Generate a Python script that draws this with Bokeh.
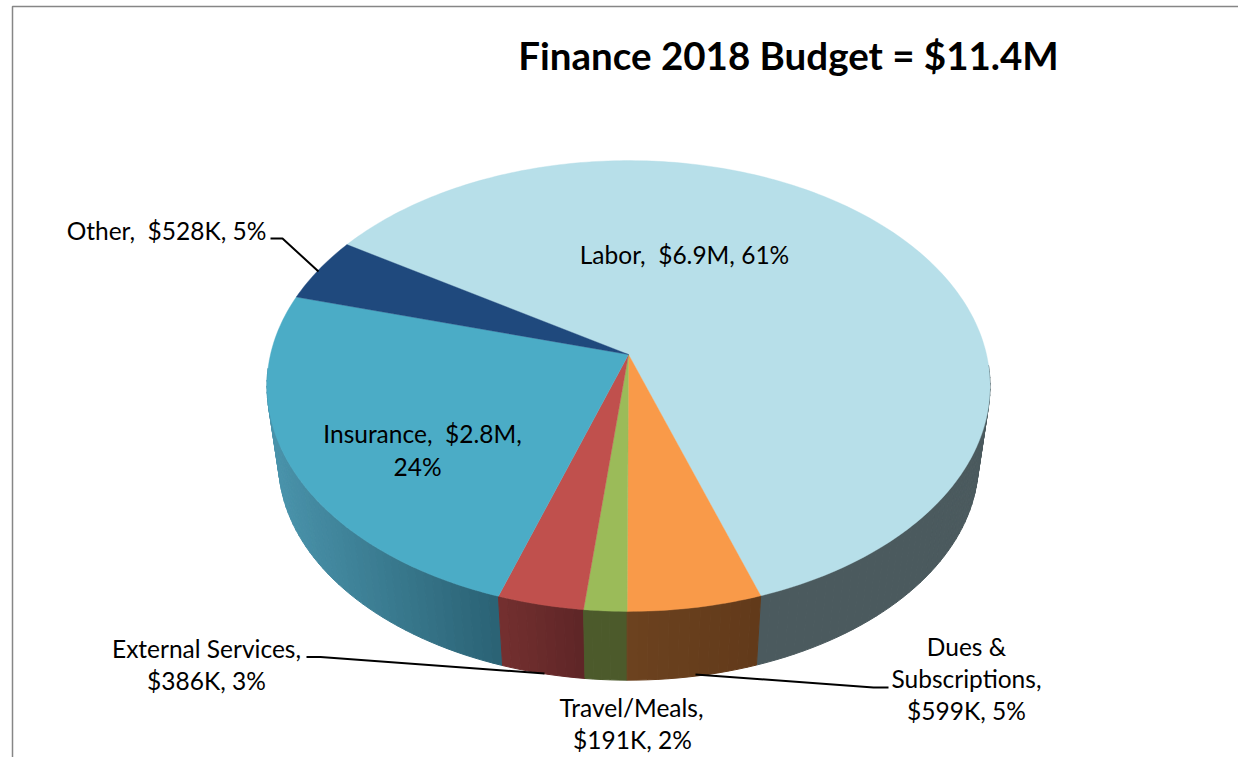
import numpy as np
from bokeh.plotting import figure
from bokeh.core.properties import value
from bokeh.embed import file_html
from bokeh.resources import INLINE

# ---- data ----
categories = ["Labor", "Dues & Subscriptions", "Travel/Meals", "External Services", "Insurance", "Other"]
amounts_k = [6950, 599, 191, 386, 2770, 528]
top_colors = ["#B7DFE9", "#F99A49", "#9BBB59", "#C0504D", "#4BACC6", "#1F497D"]
side_left = ["#4B5A5E", "#6C421F", "#4C5A2B", "#74302F", "#4A94AC", "#1F497D"]
side_right = ["#4B5A5E", "#623A1A", "#4C5A2B", "#5E2526", "#2A6274", "#1F497D"]
title_text = "Finance 2018 Budget = $11.4M"
label_lines = ["Labor, \u00a0$6.9M, 61%", "Insurance, \u00a0$2.8M,", "24%", "Other, \u00a0$528K, 5%",
               "External Services,", "$386K, 3%", "Travel/Meals,", "$191K, 2%",
               "Dues &", "Subscriptions,", "$599K, 5%"]

# ---- layout ----
W, H = 1238, 757
label_x = [684, 422, 417, 166, 206, 206, 631, 632, 966, 966, 966]
label_y = [254, 433, 466, 230, 648, 680, 707, 739, 646, 678, 710]
START = 302.3
CX, AY = 628.0, 354.0
A, B, K = 358.0, 221.0, 0.1397
SCALE, LOW_AY = 0.968, 431.0


def project(t_deg, scale=1.0, ay=AY):
    t = np.radians(t_deg)
    u, v = np.sin(t), -np.cos(t)
    d = 1 - K * v
    return CX + scale * A * u / d, ay + scale * B * v / d


def mix(c0, c1, f):
    a = [int(c0[i:i + 2], 16) for i in (1, 3, 5)]
    b = [int(c1[i:i + 2], 16) for i in (1, 3, 5)]
    return "#%02x%02x%02x" % tuple(int(round(p + (q - p) * f)) for p, q in zip(a, b))


total = sum(amounts_k)
edges = START + np.cumsum([0] + amounts_k) / total * 360.0

p = figure(width=W, height=H, x_range=(0, W), y_range=(H, 0), x_axis_type=None, y_axis_type=None,
           output_backend="svg", toolbar_location=None, min_border=0, outline_line_color=None,
           margin=(0, 0, 0, 0), background_fill_color="white", border_fill_color="white")
p.grid.visible = False

# frame of the original chart area
p.line([12, 12, W], [H, 6, 6], line_color="#868686", line_width=1.5)

# side wall, built strip by strip (front part only; the rest is hidden by the top face)
strips = []
for i in range(len(amounts_k)):
    a0, a1 = edges[i], edges[i + 1]
    n = max(2, int(np.ceil((a1 - a0) / 1.5)))
    ts = np.linspace(a0, a1, n + 1)
    xs_top, _ = project(ts)
    for j in range(n):
        depth = -np.cos(np.radians((ts[j] + ts[j + 1]) / 2))
        if depth < 0.05:
            continue
        tx0, ty0 = project(ts[j]); tx1, ty1 = project(ts[j + 1])
        lx0, ly0 = project(ts[j], SCALE, LOW_AY); lx1, ly1 = project(ts[j + 1], SCALE, LOW_AY)
        vis = xs_top[-np.cos(np.radians(ts)) >= 0.05]
        xmin, xmax = vis.min(), vis.max()
        f = ((tx0 + tx1) / 2 - xmin) / max(xmax - xmin, 1)
        strips.append((depth, [tx0, tx1, lx1, lx0], [ty0, ty1, ly1, ly0], mix(side_left[i], side_right[i], f)))
strips.sort(key=lambda s: s[0])
c = [s[3] for s in strips]
p.patches([s[1] for s in strips], [s[2] for s in strips], fill_color=c, line_color=c, line_width=1.0)

# top face
wx, wy = [], []
for i in range(len(amounts_k)):
    ts = np.arange(edges[i], edges[i + 1], 1.0).tolist() + [edges[i + 1]]
    ax, ay = project(np.array(ts))
    wx.append([CX] + ax.tolist())
    wy.append([AY] + ay.tolist())
p.patches(wx, wy, fill_color=top_colors, line_color=top_colors, line_width=0.4)

# leader lines
leader_xs = [[270, 282, 318], [306, 320, 544], [695, 873, 888]]
leader_ys = [[238, 238, 271], [656.5, 656.5, 673], [674, 687, 687]]
p.multi_line(leader_xs, leader_ys, line_color="black", line_width=2)

p.text(x=label_x, y=label_y, text=label_lines, text_font=value("Lato"), text_font_size="24.5px",
       text_align="center", text_baseline="middle", text_color="#000000")
p.text(x=[788], y=[54], text=[title_text], text_font=value("Lato"), text_font_size="38.5px",
       text_font_style="bold", text_align="center", text_baseline="middle", text_color="#000000")

open("out.html", "w").write(file_html(p, INLINE))
